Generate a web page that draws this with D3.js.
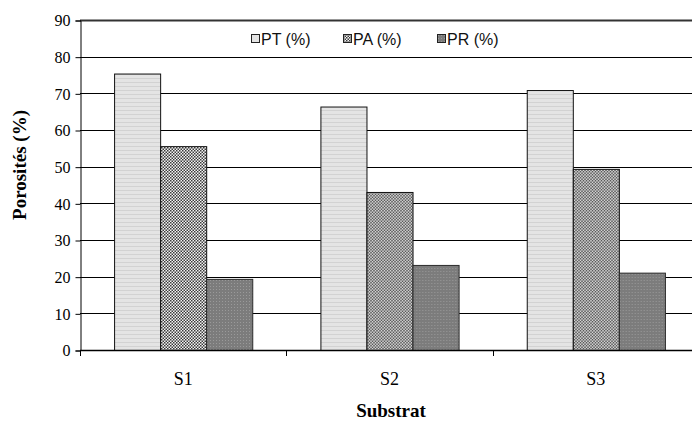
<!DOCTYPE html>
<html>
<head>
<meta charset="utf-8">
<script src="https://cdn.jsdelivr.net/npm/d3@7"></script>
<style>
  body { margin: 0; background: #fff; }
  svg { display: block; }
</style>
</head>
<body>
<script>
// chart values
var substrats = ["S1", "S2", "S3"];
var series = ["PT (%)", "PA (%)", "PR (%)"];
var ptValues = [75.4, 66.4, 70.9];
var paValues = [55.6, 43.1, 49.4];
var prValues = [19.4, 23.2, 21.1];
var yTicks = [0, 10, 20, 30, 40, 50, 60, 70, 80, 90];

var drawChart = () => {
  const w = 692;
  const h = 421;
  const left = 80, top = 20, bottom = 350, right = 699;

  var svg = d3.select("body")
    .append("svg")
    .attr("width", w)
    .attr("height", h);

  // fill patterns like the old excel chart
  var defs = svg.append("defs");

  var pt = defs.append("pattern")
    .attr("id", "patPT").attr("patternUnits", "userSpaceOnUse")
    .attr("width", 4).attr("height", 4);
  pt.append("rect").attr("width", 4).attr("height", 4).attr("fill", "#e4e4e4");
  pt.append("rect").attr("y", 2).attr("width", 4).attr("height", 1).attr("fill", "#d2d2d2");

  var pa = defs.append("pattern")
    .attr("id", "patPA").attr("patternUnits", "userSpaceOnUse")
    .attr("width", 3).attr("height", 3);
  pa.append("rect").attr("width", 3).attr("height", 3).attr("fill", "#f4f4f4");
  pa.append("rect").attr("width", 1.5).attr("height", 1.5).attr("fill", "#3a3a3a");
  pa.append("rect").attr("x", 1.5).attr("y", 1.5).attr("width", 1.5).attr("height", 1.5).attr("fill", "#3a3a3a");

  var pr = defs.append("pattern")
    .attr("id", "patPR").attr("patternUnits", "userSpaceOnUse")
    .attr("width", 3).attr("height", 3);
  pr.append("rect").attr("width", 3).attr("height", 3).attr("fill", "#7c7c7c");
  pr.append("rect").attr("x", 1).attr("y", 1).attr("width", 1).attr("height", 1).attr("fill", "#9a9a9a");

  var fills = ["url(#patPT)", "url(#patPA)", "url(#patPR)"];
  var legendFills = ["#e4e4e4", "url(#patPA)", "url(#patPR)"];

  var x = d3.scaleBand().domain(substrats).range([left, right]);
  var xInner = d3.scaleBand().domain(series).range([0, x.bandwidth()]).paddingOuter(0.74);
  var y = d3.scaleLinear().domain([0, 90]).range([bottom, top]);

  // grid lines
  svg.append("g")
    .selectAll("line")
    .data(yTicks.slice(1))
    .enter()
    .append("line")
    .attr("x1", left).attr("x2", w)
    .attr("y1", d => Math.round(y(d)) + 0.5)
    .attr("y2", d => Math.round(y(d)) + 0.5)
    .attr("stroke", d => d === 90 ? "#333" : "#000")
    .attr("stroke-width", d => d === 90 ? 2 : 1);

  // y axis
  var yAxis = d3.axisLeft(y).tickValues(yTicks).tickSize(5).tickPadding(5);
  var gy = svg.append("g")
    .attr("transform", "translate(" + (left + 0.5) + ",0.5)")
    .call(yAxis)
    .attr("font-family", "'Liberation Serif', 'Times New Roman', serif")
    .attr("font-size", 16);
  gy.selectAll("text").attr("fill", "#000").attr("dy", "0.34em");
  gy.selectAll("line, path").attr("stroke", "#000");

  // bars
  var rows = substrats.map((s, i) => [ptValues[i], paValues[i], prValues[i]]);
  var groups = svg.append("g")
    .selectAll("g")
    .data(rows)
    .enter()
    .append("g")
    .attr("transform", (d, i) => "translate(" + x(substrats[i]) + ",0)");

  groups.selectAll("rect")
    .data(d => d)
    .enter()
    .append("rect")
    .attr("x", (d, j) => xInner(series[j]) + 0.5)
    .attr("y", d => y(d) + 0.5)
    .attr("width", xInner.bandwidth())
    .attr("height", d => bottom - y(d))
    .attr("fill", (d, j) => fills[j])
    .attr("stroke", (d, j) => j === 2 ? "#2a2a2a" : "#111")
    .attr("stroke-width", 1);

  // x axis with ticks between categories
  svg.append("line")
    .attr("x1", left).attr("x2", w)
    .attr("y1", bottom + 0.5).attr("y2", bottom + 0.5)
    .attr("stroke", "#000").attr("stroke-width", 1.5);

  svg.append("g")
    .selectAll("line")
    .data(substrats)
    .enter()
    .append("line")
    .attr("x1", d => Math.round(x(d)) + 0.5)
    .attr("x2", d => Math.round(x(d)) + 0.5)
    .attr("y1", bottom).attr("y2", bottom + 6)
    .attr("stroke", "#000");

  svg.append("g")
    .selectAll("text")
    .data(substrats)
    .enter()
    .append("text")
    .attr("x", d => x(d) + x.bandwidth() / 2)
    .attr("y", 385)
    .attr("text-anchor", "middle")
    .attr("font-family", "'Liberation Serif', 'Times New Roman', serif")
    .attr("font-size", 18)
    .text(d => d);

  // axis titles
  svg.append("text")
    .attr("x", 391).attr("y", 417)
    .attr("text-anchor", "middle")
    .attr("font-family", "'Liberation Serif', 'Times New Roman', serif")
    .attr("font-weight", "bold")
    .attr("font-size", 19)
    .text("Substrat");

  svg.append("text")
    .attr("transform", "translate(26,165) rotate(-90)")
    .attr("text-anchor", "middle")
    .attr("font-family", "'Liberation Serif', 'Times New Roman', serif")
    .attr("font-weight", "bold")
    .attr("font-size", 19)
    .text("Porosités (%)");

  // legend
  var legendX = [251, 343, 437];
  var legend = svg.append("g")
    .selectAll("g")
    .data(series)
    .enter()
    .append("g")
    .attr("transform", (d, i) => "translate(" + legendX[i] + ",34)");
  legend.append("rect")
    .attr("x", 0.5).attr("y", 0.5)
    .attr("width", 8).attr("height", 8)
    .attr("fill", (d, i) => legendFills[i])
    .attr("stroke", "#222");
  legend.append("text")
    .attr("x", 10).attr("y", 11)
    .attr("font-family", "'Liberation Sans', Arial, sans-serif")
    .attr("font-size", 16)
    .attr("fill", "#111")
    .text(d => d);
}

drawChart();
</script>
</body>
</html>
